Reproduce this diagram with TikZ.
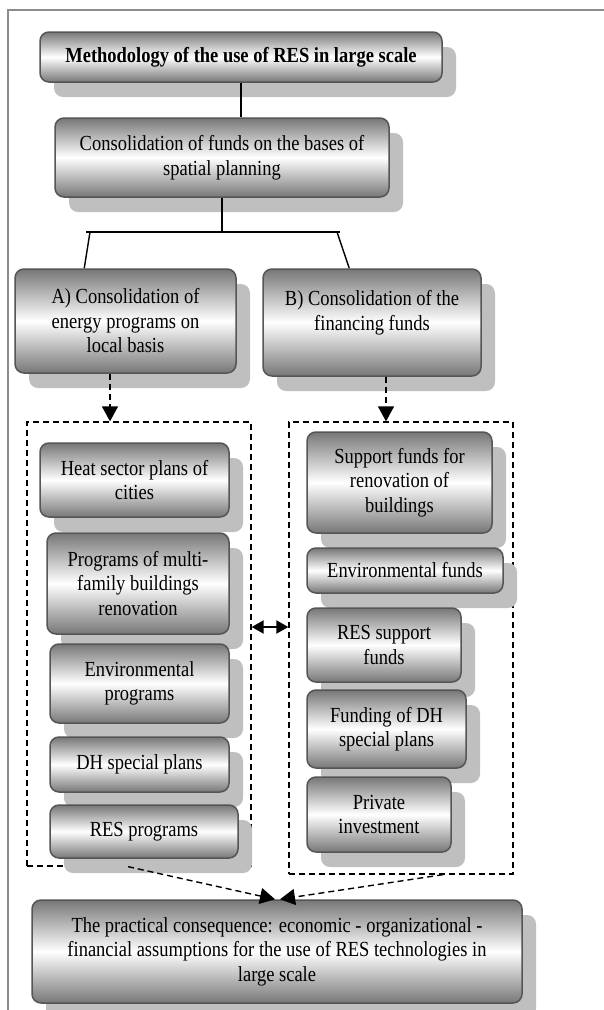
\documentclass[tikz,border=0pt]{standalone}
\usepackage{fontspec}
\setmainfont[FakeStretch=0.86]{Liberation Serif}
\usetikzlibrary{arrows.meta,calc,shadows}
\definecolor{edge}{HTML}{555555}
\definecolor{boxgray}{HTML}{777777}
\definecolor{shadowgray}{HTML}{BFBFBF}
\definecolor{framegray}{HTML}{8C8C8C}
\tikzset{
  box/.style={rounded corners=9pt, draw=edge, line width=1.5pt,
    top color=boxgray, bottom color=boxgray, middle color=white,
    align=center, inner sep=0pt, font=\fontsize{21.5}{24.5}\selectfont,
    drop shadow={shadow xshift=14pt, shadow yshift=-15pt, fill=shadowgray, opacity=1}},
  grp/.style={draw=black, line width=1.3pt, dash pattern=on 6pt off 4pt, inner sep=0pt},
  link/.style={draw=black, line width=1.4pt},
  dasharrow/.style={link, dash pattern=on 6pt off 4pt, -{Triangle[length=15pt,width=16pt]}},
  dblarrow/.style={link, line width=2pt, {Triangle[length=12pt,width=13pt]}-{Triangle[length=12pt,width=13pt]}},
  border/.style={draw=framegray, line width=1.5pt}
}
\begin{document}
\begin{tikzpicture}[x=1pt,y=-1pt]
  \useasboundingbox (0,0) rectangle (604,1010);
  \draw[border] (8,1010) -- (8,10) -- (604,10);

  \node[box, minimum width=402pt, minimum height=50pt] (title) at (241,57) {\textbf{Methodology of the use of RES in large scale}};
  \node[box, minimum width=334pt, minimum height=79pt] (cons) at (222,157.5) {Consolidation of funds on the bases of\\spatial planning};
  \node[box, minimum width=221pt, minimum height=104pt] (boxA) at (125.5,321) {A) Consolidation of\\energy programs on\\local basis};
  \node[box, minimum width=218pt, minimum height=107pt] (boxB) at (372,322.5) {B) Consolidation of the\\financing funds\\\mbox{}};

  \node[grp, minimum width=224pt, minimum height=444pt] (grpL) at (139,644) {};
  \node[grp, minimum width=224pt, minimum height=452pt] (grpR) at (401,648) {};

  \node[box, minimum width=189pt, minimum height=74pt] (heat) at (134.5,480) {Heat sector plans of\\cities};
  \node[box, minimum width=182pt, minimum height=101pt] (multi) at (138,583.5) {Programs of multi-\\family buildings\\renovation};
  \node[box, minimum width=179pt, minimum height=79pt] (envprog) at (139.5,683.5) {Environmental\\programs};
  \node[box, minimum width=179pt, minimum height=55pt] (dhplans) at (139.5,764.5) {DH special plans};
  \node[box, minimum width=188pt, minimum height=53pt] (resprog) at (144,831.5) {RES programs};

  \node[box, minimum width=185pt, minimum height=101pt] (support) at (399.5,482.5) {Support funds for\\renovation of\\buildings};
  \node[box, minimum width=196pt, minimum height=45pt] (envfund) at (405,570.5) {Environmental funds};
  \node[box, minimum width=154pt, minimum height=74pt] (resfund) at (384,645) {RES support\\funds};
  \node[box, minimum width=159pt, minimum height=78pt] (dhfund) at (386.5,729) {Funding of DH\\special plans};
  \node[box, minimum width=144pt, minimum height=75pt] (private) at (379,814.5) {Private\\investment};

  \node[box, minimum width=490pt, minimum height=103pt] (final) at (277,951.5) {The practical consequence: economic - organizational -\\financial assumptions for the use of RES technologies in\\large scale};

  \coordinate (barL) at (86,232);
  \coordinate (barR) at (340,232);
  \draw[link] (title.south) -- (title.south |- cons.north);
  \draw[link] (cons.south) -- (cons.south |- barL);
  \draw[link] (barL) -- (barR);
  \draw[link] ([xshift=4pt]barL) -- ([xshift=70pt]boxA.north west);
  \draw[link] ([xshift=-3pt]barR) -- ([xshift=87pt]boxB.north west);

  \draw[dasharrow] ([xshift=-15.5pt]boxA.south) -- ([xshift=-15.5pt]boxA.south |- grpL.north);
  \draw[dasharrow] ([xshift=14pt]boxB.south) -- ([xshift=14pt]boxB.south |- grpR.north);
  \draw[dblarrow] ([yshift=17pt]grpL.east) -- ([yshift=17pt]grpL.east -| grpR.west);
  \draw[dasharrow] ([xshift=-11pt]grpL.south) -- ([xshift=-2pt]final.north);
  \draw[dasharrow] ([xshift=42pt]grpR.south) -- ([xshift=3pt]final.north);
\end{tikzpicture}
\end{document}
